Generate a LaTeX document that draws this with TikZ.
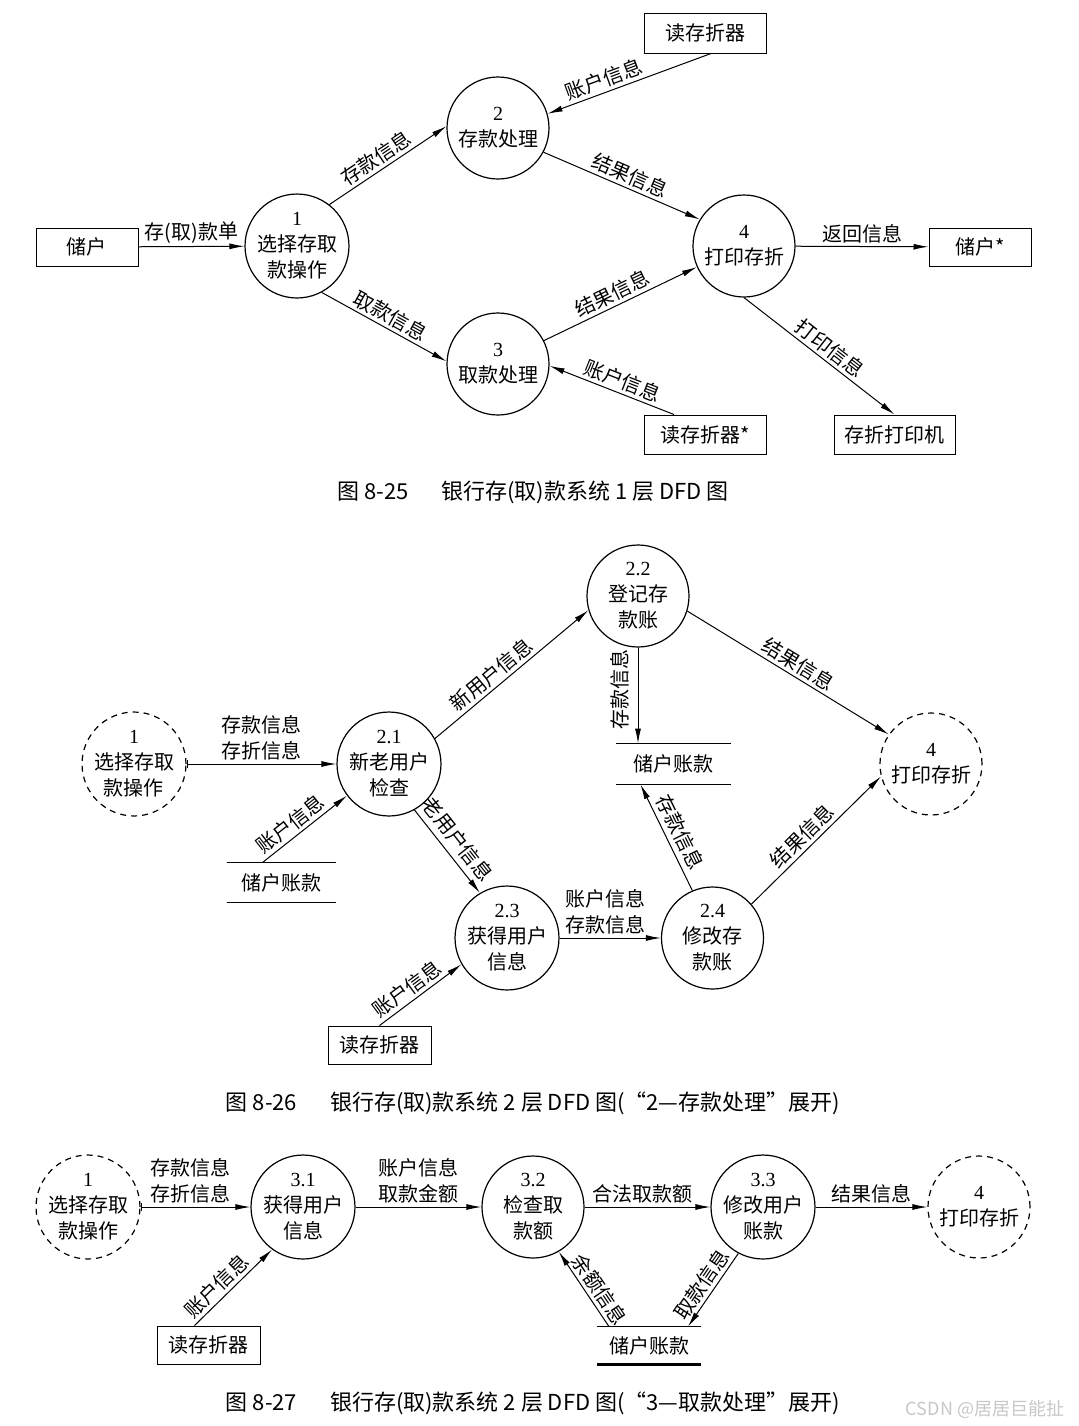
\documentclass[tikz,border=0pt]{standalone}
\usepackage{fontspec}
\setmainfont{Liberation Serif}
\newfontfamily\cjk{Noto Sans CJK SC}
\usepackage{tikz}
\usetikzlibrary{arrows.meta}
\newcommand{\pno}[1]{{\rmfamily #1}}

\begin{document}
\begin{tikzpicture}[
      x=0.5pt, y=-0.5pt,
      every node/.style={font=\cjk\fontsize{10}{13}\selectfont},
      proc/.style={circle, draw=black, line width=0.6pt, minimum size=51pt,
                   inner sep=0pt, align=center},
      ext/.style={proc, dash pattern=on 3pt off 2.5pt},
      ent/.style={rectangle, draw=black, line width=0.5pt, minimum width=51pt,
                  minimum height=19pt, inner sep=2pt},
      store/.style={rectangle, minimum width=55pt, minimum height=20pt, inner sep=0pt},
      flow/.style={line width=0.5pt, -{Latex[length=7.5pt,width=3pt]}},
      bflow/.style={line width=0.5pt, {Bar[width=4pt]}-{Latex[length=7.5pt,width=3pt]}},
      lbl/.style={sloped, above, inner sep=1.5pt, align=center},
      figcap/.style={font=\cjk\fontsize{11}{13}\selectfont}
    ]
    \useasboundingbox (0,0) rectangle (1079,1426);

    % 1 层 DFD
    \node[ent] (hu1) at (87,247) {储户};
    \node[proc] (p1) at (297,246) {\pno{1}\\选择存取\\款操作};
    \node[proc] (p2) at (498,128) {\pno{2}\\存款处理};
    \node[proc] (p3) at (498,364) {\pno{3}\\取款处理};
    \node[proc] (p4) at (744,246) {\pno{4}\\打印存折};
    \node[ent, minimum width=61pt, minimum height=20pt] (rd1) at (705,33) {读存折器};
    \node[ent, minimum width=61pt, minimum height=19.5pt] (rd2) at (705,434.5) {读存折器*};
    \node[ent, minimum width=60.5pt, minimum height=19.5pt] (pr) at (894.5,434.5) {存折打印机};
    \node[ent] (hu2) at (980,247) {储户*};
    \draw[flow] (hu1) -- node[lbl] {存(取)款单} (p1);
    \draw[flow] (p1.52) -- node[lbl, pos=0.46] {存款信息} (p2.178);
    \draw[flow] (p1.-62) -- node[lbl, pos=0.5] {取款信息} (p3.177);
    \draw[flow] ([xshift=3pt]rd1.south) -- node[lbl, pos=0.63] {账户信息} (p2.16);
    \draw[flow] (p2.-28) -- node[lbl, pos=0.52] {结果信息} (p4.149);
    \draw[flow] (p3.27) -- node[lbl, pos=0.48] {结果信息} (p4.204);
    \draw[flow] ([xshift=-15.5pt]rd2.north) -- node[lbl, pos=0.45] {账户信息} (p3.-2);
    \draw[flow] (p4) -- node[lbl] {返回信息} (hu2);
    \draw[flow] (p4.south) -- node[lbl, pos=0.52] {打印信息} (pr.north);
    \node[figcap] (t1) at (533,492) {图 8-25\hspace{1.5em}银行存(取)款系统 1 层 DFD 图};

    % 2 层 DFD, 存款处理
    \node[ext] (a1) at (134,764) {\pno{1}\\选择存取\\款操作};
    \node[proc] (q21) at (389,764) {\pno{2.1}\\新老用户\\检查};
    \node[proc] (q22) at (638,596) {\pno{2.2}\\登记存\\款账};
    \node[proc] (q23) at (507,938) {\pno{2.3}\\获得用户\\信息};
    \node[proc] (q24) at (712.5,938) {\pno{2.4}\\修改存\\款账};
    \node[ext] (a4) at (931,764) {\pno{4}\\打印存折};
    \node[store, minimum width=54.5pt] (ac1) at (281.5,882.5) {储户账款};
    \node[store, minimum width=57.5pt] (ac2) at (673.5,764) {储户账款};
    \node[ent, minimum width=51.5pt] (rd3) at (379.5,1045) {读存折器};
    \draw[line width=0.5pt] (ac1.north west) -- (ac1.north east)
      (ac1.south west) -- (ac1.south east);
    \draw[line width=0.5pt] (ac2.north west) -- (ac2.north east)
      (ac2.south west) -- (ac2.south east);
    \draw[bflow] (a1) -- node[lbl] {存款信息\\存折信息} (q21);
    \draw[flow] (q21.29) -- node[lbl, pos=0.42] {新用户信息} (q22.196);
    \draw[flow] (q22.south) -- node[pos=0.44, rotate=90, anchor=south, inner sep=4pt] {存款信息} (q22.south |- ac2.north);
    \draw[flow] (q22.-17) -- node[lbl, pos=0.52] {结果信息} (a4.145);
    \draw[flow] ([xshift=-9.25pt]ac1.north) -- node[lbl, pos=0.42] {账户信息} (q21.217);
    \draw[flow] (q21.-61) -- node[lbl, pos=0.47, inner sep=3pt] {老用户信息} (q23.121);
    \draw[flow] (q23) -- node[lbl, pos=0.45] {账户信息\\存款信息} (q24);
    \draw[flow] (rd3.north) -- node[lbl, pos=0.43] {账户信息} (q23.210);
    \draw[flow] (q24.113) -- node[lbl, pos=0.49, inner sep=2.5pt] {存款信息} ([xshift=-16.5pt]ac2.south);
    \draw[flow] (q24.41) -- node[lbl, pos=0.46] {结果信息} (a4.194);
    \node[figcap] (t2) at (533,1103) {图 8-26\hspace{1.5em}银行存(取)款系统 2 层 DFD 图(“2—存款处理”展开)};

    % 2 层 DFD, 取款处理
    \node[ext] (b1) at (88,1207) {\pno{1}\\选择存取\\款操作};
    \node[proc] (r31) at (303,1207) {\pno{3.1}\\获得用户\\信息};
    \node[proc] (r32) at (533,1207) {\pno{3.2}\\检查取\\款额};
    \node[proc] (r33) at (763,1207) {\pno{3.3}\\修改用户\\账款};
    \node[ext] (b4) at (979,1207) {\pno{4}\\打印存折};
    \node[store, minimum width=52pt, minimum height=18.5pt] (ac3) at (649,1345.5) {储户账款};
    \node[ent, minimum width=51.5pt] (rd4) at (208.5,1345) {读存折器};
    \draw[line width=0.5pt] (ac3.north west) -- (ac3.north east);
    \draw[line width=1.1pt] (ac3.south west) -- (ac3.south east);
    \draw[bflow] (b1) -- node[lbl, pos=0.45] {存款信息\\存折信息} (r31);
    \draw[flow] (r31) -- node[lbl] {账户信息\\取款金额} (r32);
    \draw[flow] (r32) -- node[lbl, pos=0.46] {合法取款额} (r33);
    \draw[flow] (r33) -- node[lbl] {结果信息} (b4);
    \draw[flow] ([xshift=-7pt]rd4.north) -- node[lbl, pos=0.4] {账户信息} (r31.234);
    \draw[flow] ([xshift=-20pt]ac3.north) -- node[lbl, pos=0.4] {余额信息} (r32.-60);
    \draw[flow] (r33.242) -- node[lbl, pos=0.52] {取款信息} ([xshift=19.5pt]ac3.north);
    \node[figcap] (t3) at (533,1403) {图 8-27\hspace{1.5em}银行存(取)款系统 2 层 DFD 图(“3—取款处理”展开)};
    \node[font=\cjk\fontsize{9}{11}\selectfont, text=black!22] (wm) at (985,1409) {CSDN @居居巨能扯};
  \end{tikzpicture}
\end{document}
